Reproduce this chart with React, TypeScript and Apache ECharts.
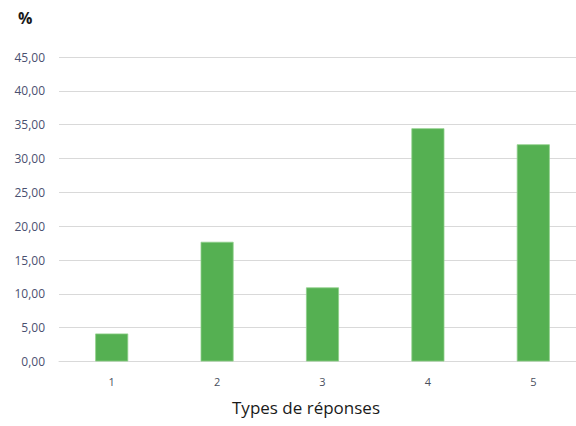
import React, { useEffect, useRef } from "react";
import * as echarts from "echarts";

const categories = ["1", "2", "3", "4", "5"];
const values = [4.14, 17.69, 10.95, 34.47, 32.1];
const yTicks = { min: 0, max: 45, interval: 5 };
const yAxisTitle = "%";
const xAxisTitle = "Types de réponses";

export default function App() {
  const ref = useRef<HTMLDivElement>(null);
  useEffect(() => {
    if (!ref.current) return;
    const chart = echarts.init(ref.current, null, { renderer: "svg" });
    const font = "'Open Sans', 'Liberation Sans', sans-serif";
    chart.setOption({
      animation: false,
      backgroundColor: "#ffffff",
      grid: { left: 59, top: 57, width: 527, height: 304.5, containLabel: false },
      xAxis: {
        type: "category",
        data: categories,
        axisLine: { show: true, lineStyle: { color: "#d9d9d9", width: 1 } },
        axisTick: { show: false },
        axisLabel: { color: "#4a4f5e", fontSize: 11, fontFamily: font, margin: 14 },
      },
      yAxis: {
        type: "value",
        min: yTicks.min,
        max: yTicks.max,
        interval: yTicks.interval,
        axisLine: { show: false },
        axisTick: { show: false },
        splitLine: { lineStyle: { color: "#d9d9d9", width: 1 } },
        axisLabel: {
          color: "#4a5070",
          fontSize: 12,
          fontFamily: font,
          margin: 14,
          formatter: (v: number) => v.toFixed(2).replace(".", ","),
        },
      },
      series: [
        {
          type: "bar",
          data: values,
          barWidth: 33,
          itemStyle: { color: "#55b052", borderColor: "#8fcf8a", borderWidth: 0.8 },
        },
      ],
      graphic: [
        {
          type: "text",
          left: 18,
          top: 10,
          style: { text: yAxisTitle, fontSize: 16, fontWeight: "bold", fill: "#1a1a1a", fontFamily: font },
        },
        {
          type: "text",
          x: 306,
          y: 399,
          style: { text: xAxisTitle, fontSize: 17, fill: "#1a1a1a", fontFamily: font, textAlign: "center" },
        },
      ],
    });
    return () => chart.dispose();
  }, []);
  return (
    <div style={{ position: "fixed", left: 0, top: 0, width: 576, height: 426, overflow: "hidden", background: "#fff" }}>
      <div ref={ref} style={{ width: 596, height: 426 }} />
    </div>
  );
}
